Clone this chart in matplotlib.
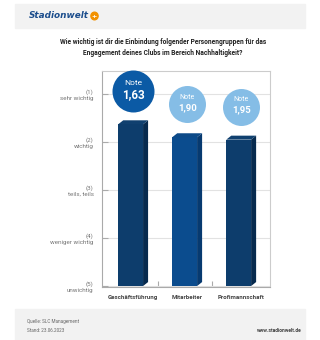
import matplotlib
matplotlib.use("Agg")
import matplotlib.pyplot as plt
from matplotlib.patches import Rectangle, Polygon, Circle
from matplotlib.transforms import offset_copy

plt.rcParams['font.family'] = ['Roboto', 'DejaVu Sans']

categories = ["Geschäftsführung", "Mitarbeiter", "Profimannschaft"]
notes = [1.63, 1.90, 1.95]
note_labels = ["1,63", "1,90", "1,95"]
scale_labels = ["(1)\nsehr wichtig", "(2)\nwichtig", "(3)\nteils, teils",
                "(4)\nweniger wichtig", "(5)\nunwichtig"]

front_cols = ["#0d3d6c", "#0b4c8e", "#0d3d6c"]
side_cols = ["#072a4e", "#073a70", "#072a4e"]
top_cols = ["#10406f", "#0d4a88", "#10406f"]
circle_cols = ["#0b5aa5", "#85bde6", "#85bde6"]

fig = plt.figure(figsize=(3.2, 3.4), dpi=100)

# header + footer bands
fig.patches.append(Rectangle((15/320, 1-28/340), 290/320, 24/340, transform=fig.transFigure,
                             color="#f2f2f2", zorder=0))
fig.patches.append(Rectangle((15/320, 0), 290/320, 31/340, transform=fig.transFigure,
                             color="#f2f2f2", zorder=0))
fig.text(29/320, 1-16/340, "Stadionwelt", fontsize=6.4, fontweight="bold", style="italic",
         color="#1b4d8c", va="center", ha="left", family="DejaVu Sans")
fig.patches.append(Circle((94.5/320, 1-16/340), 3.6/320, transform=fig.transFigure, color="#f39200"))
fig.text(94.5/320, 1-16.3/340, "+", fontsize=4.6, fontweight="bold", color="white",
         ha="center", va="center", family="DejaVu Sans")

fig.text(163/320, 1-47.5/340, "Wie wichtig ist dir die Einbindung folgender Personengruppen für das\n"
         "Engagement deines Clubs im Bereich Nachhaltigkeit?", fontsize=4.8, fontweight="bold",
         ha="center", va="center", color="#222222", linespacing=1.45)

fig.text(27/320, 1-322/340, "Quelle: SLC Management", fontsize=3.3, color="#666666", va="center")
fig.text(27/320, 1-330/340, "Stand: 23.06.2023", fontsize=3.3, color="#666666", va="center")
fig.text(302/320, 1-330/340, "www.stadionwelt.de", fontsize=3.6, fontweight="bold",
         color="#444444", va="center", ha="right")

ax = fig.add_axes([102/320, 1-287/340, 168/320, 216/340])
ax.set_xlim(-0.53, 2.58)
ax.set_ylim(5.02, 0.52)

w = 0.46
dx, dy = 0.093, 0.083
x = list(range(len(categories)))
ax.bar(x, [v - 5 for v in notes], bottom=5, width=w, color=front_cols, zorder=3)
for i, v in enumerate(notes):
    x0, x1 = i - w/2, i + w/2
    ax.add_patch(Polygon([(x1, v), (x1+dx, v-dy), (x1+dx, 5-dy), (x1, 5)],
                         closed=True, color=side_cols[i], zorder=3, lw=0))
    ax.add_patch(Polygon([(x0, v), (x0+dx, v-dy), (x1+dx, v-dy), (x1, v)],
                         closed=True, color=top_cols[i], zorder=3, lw=0))

# note bubbles
radii = [21, 18.5, 18.5]
for i, v in enumerate(notes):
    tr = offset_copy(ax.transData, fig=fig, x=2.5, y=33, units="dots")
    d = 2 * radii[i] * 72 / 100
    ax.scatter([i], [v], s=d**2, color=circle_cols[i], transform=tr, zorder=4, clip_on=False,
               linewidths=0)
    big = i == 0
    ax.text(i, v, "Note", transform=offset_copy(ax.transData, fig=fig, x=2.5, y=33+(8 if big else 7), units="dots"),
            ha="center", va="center", color="white", fontsize=6.0 if big else 5.0, zorder=5)
    ax.text(i, v, note_labels[i], transform=offset_copy(ax.transData, fig=fig, x=2.5, y=33-3, units="dots"),
            ha="center", va="center", color="white", fontsize=8.4 if big else 6.8,
            fontweight="bold", zorder=5)

ax.set_yticks([1, 2, 3, 4, 5])
ax.set_yticklabels(scale_labels, fontsize=4.5, color="#777777", ha="right")
ax.grid(axis="y", color="#e2e2e2", lw=0.8, zorder=0)
ax.tick_params(axis="y", direction="in", length=4, color="#aaaaaa", pad=6)

ax.set_xticks([0.5, 1.5])
ax.set_xticklabels([])
ax.tick_params(axis="x", which="major", direction="in", length=4, color="#aaaaaa")
ax.set_xticks([i + 0.05 for i in x], minor=True)
ax.set_xticklabels(categories, minor=True, fontsize=4.4, fontweight="bold", color="#444444")
ax.tick_params(axis="x", which="minor", length=0, pad=6)

for s in ["top", "right"]:
    ax.spines[s].set_color("#cccccc")
for s in ["left", "bottom"]:
    ax.spines[s].set_color("#aaaaaa")
for s in ax.spines.values():
    s.set_linewidth(0.8)

fig.savefig("out.png", dpi=100)
